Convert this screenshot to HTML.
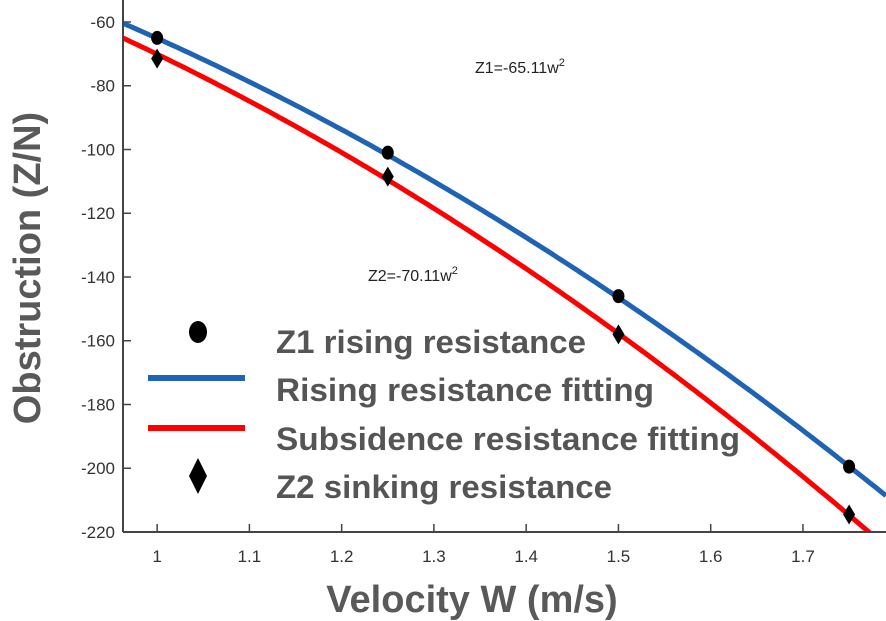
<!DOCTYPE html>
<html><head><meta charset="utf-8"><style>
html,body{margin:0;padding:0;background:#fff;}
svg{display:block;font-family:"Liberation Sans",sans-serif;}
</style></head><body>
<svg id="chart" width="886" height="621" viewBox="0 0 886 621">
<g id="grid"></g>
<g id="curves"></g>
<g id="marks"></g>
<line x1="123" y1="0" x2="123" y2="532" stroke="#444" stroke-width="2"/>
<line x1="123" y1="532" x2="886" y2="532" stroke="#444" stroke-width="2"/>
<text x="475" y="73" font-size="16" fill="#222">Z1=-65.11w<tspan dy="-7" font-size="11">2</tspan></text>
<text x="368" y="281" font-size="16" fill="#222">Z2=-70.11w<tspan dy="-7" font-size="11">2</tspan></text>
<text transform="translate(40,268) rotate(-90)" text-anchor="middle" font-size="38" font-weight="bold" fill="#595959">Obstruction (Z/N)</text>
<text x="472" y="612" text-anchor="middle" font-size="38" font-weight="bold" fill="#595959">Velocity W (m/s)</text>
<g>
<ellipse cx="198" cy="332" rx="9" ry="11" fill="#000"/>
<line x1="148" y1="378" x2="245" y2="378" stroke="#1f63b4" stroke-width="6"/>
<line x1="148" y1="428" x2="245" y2="428" stroke="#ff0000" stroke-width="6"/>
<polygon points="198,458 207,476 198,494 189,476" fill="#000"/>
<text x="276" y="353" font-size="32" font-weight="bold" fill="#555" textLength="310" lengthAdjust="spacingAndGlyphs">Z1 rising resistance</text>
<text x="276" y="401" font-size="32" font-weight="bold" fill="#555" textLength="378" lengthAdjust="spacingAndGlyphs">Rising resistance fitting</text>
<text x="276" y="450" font-size="32" font-weight="bold" fill="#555" textLength="464" lengthAdjust="spacingAndGlyphs">Subsidence resistance fitting</text>
<text x="276" y="498" font-size="32" font-weight="bold" fill="#555" textLength="336" lengthAdjust="spacingAndGlyphs">Z2 sinking resistance</text>
</g>
</svg>
<script>
const xTicks = [1, 1.1, 1.2, 1.3, 1.4, 1.5, 1.6, 1.7];
const yTicks = [-60, -80, -100, -120, -140, -160, -180, -200, -220];
const velocities = [1, 1.25, 1.5, 1.75];
const z1Values = [-65, -101, -146, -199.5];
const z2Values = [-71.5, -108.5, -158, -214.5];
const z1Coef = [-65.11];
const z2Coef = [-70.11];
const xDomain = [0.963, 1.79];
const yDomain = [-53.1, -220];

const L=123, R=886, T=0, B=532;
function sx(v){return L+(v-xDomain[0])/(xDomain[1]-xDomain[0])*(R-L);}
function sy(v){return T+(v-yDomain[0])/(yDomain[1]-yDomain[0])*(B-T);}
const NS='http://www.w3.org/2000/svg';
const svg=document.getElementById('chart');
const grid=document.getElementById('grid');
const curves=document.getElementById('curves');
const marks=document.getElementById('marks');
function mk(tag,attrs,parent){const e=document.createElementNS(NS,tag);for(const k in attrs)e.setAttribute(k,attrs[k]);parent.appendChild(e);return e;}

xTicks.forEach(t=>{
  const x=sx(t);
  const tk=mk('line',{x1:x,y1:B,x2:x,y2:B-8,stroke:'#444','stroke-width':1.5},grid);
  
  
  const lb=mk('text',{x:x,y:B+30,'text-anchor':'middle','font-size':17,fill:'#333'},grid);
  lb.textContent=String(t);
  
  
});
yTicks.forEach(t=>{
  const y=sy(t);
  const tk=mk('line',{x1:L,y1:y,x2:L+8,y2:y,stroke:'#444','stroke-width':1.5},grid);
  
  
  const lb=mk('text',{x:L-8,y:y+6,'text-anchor':'end','font-size':17,fill:'#333'},grid);
  lb.textContent=String(t);
  
  
});

const cp=mk('clipPath',{id:'plotclip'},svg);
mk('rect',{x:L,y:0,width:R-L,height:B},cp);
function curve(coef,color,name){
  let d='';
  for(let i=0;i<=200;i++){const w=xDomain[0]+(xDomain[1]-xDomain[0])*i/200;d+=(i?'L':'M')+sx(w).toFixed(1)+','+sy(coef*w*w).toFixed(1);}
  const p=mk('path',{d:d,fill:'none',stroke:color,'stroke-width':5,'clip-path':'url(#plotclip)'},curves);
  
  
}
curve(z1Coef[0],'#1f63b4','rising-fit-curve');
curve(z2Coef[0],'#ff0000','subsidence-fit-curve');

velocities.forEach((v,i)=>{
  const c=mk('ellipse',{cx:sx(v),cy:sy(z1Values[i]),rx:6,ry:7,fill:'#000'},marks);
  
  
  const x=sx(v),y=sy(z2Values[i]);
  const d=mk('polygon',{points:`${x},${y-10} ${x+6},${y} ${x},${y+10} ${x-6},${y}`,fill:'#000'},marks);
  
  
});
</script>
</body></html>
